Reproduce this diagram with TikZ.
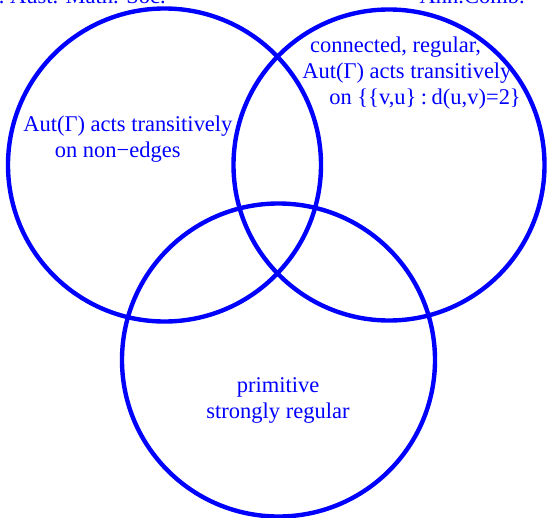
\documentclass[tikz,border=0pt]{standalone}
\usepackage{fontspec}
\setmainfont{Liberation Serif}
\usetikzlibrary{positioning}

\begin{document}
\begin{tikzpicture}[x=0.02cm,y=-0.02cm,every node/.style={font=\fontsize{12.8}{14.6}\selectfont,text=blue,inner sep=0pt},
  setcircle/.style={draw=blue,line width=2.5pt}]
\useasboundingbox (0,0) rectangle (547,517);
% the three sets
\draw[setcircle] (164.5,165) circle (156.5);
\draw[setcircle] (389,165) circle (155.5);
\draw[setcircle] (278.5,360) circle (156.5);
% labels (anchored on their last line)
\node[align=left,anchor=base west] (nonedge) at (23,157) {Aut(Γ) acts transitively\\\hspace*{1.4em}on non−edges};
\node[align=left,anchor=base west] (dist) at (302,104) {\hspace*{0.35em}connected, regular,\\Aut(Γ) acts transitively\\\hspace*{1.2em}on \{\{v,u\}\hspace{0.2em}:\hspace{0.2em}d(u,v)=2\}};
\node[align=center,anchor=base] (prim) at (278,418) {primitive\\strongly regular};
% references, cut by the edge
\node[anchor=base east] (jams) at (166,4) {J. Aust. Math. Soc.};
\node[anchor=base east] (comb) at (525,4) {Ann.Comb.};
\end{tikzpicture}
\end{document}
